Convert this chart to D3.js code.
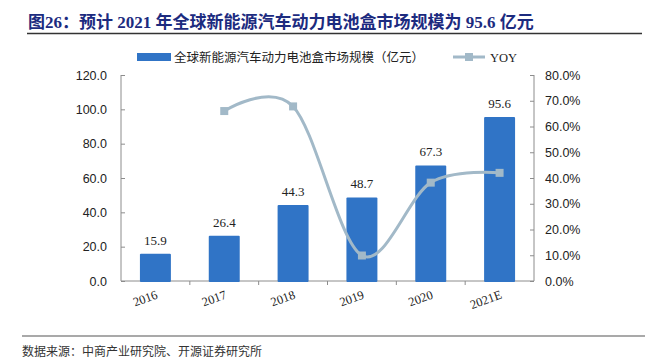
<!DOCTYPE html>
<html>
<head>
<meta charset="utf-8">
<script src="https://cdn.jsdelivr.net/npm/d3@7/dist/d3.min.js"></script>
<style>
    body { margin: 0; background: #fff; }
    svg { display: block; font-family: "Times New Roman", "Liberation Serif", "Noto Sans CJK SC", serif; }
    .axis path, .axis line { stroke: #8c8c8c; }
    .axis text { fill: #222; font-size: 12.5px; }
</style>
</head>
<body>
<div id="chart"></div>
<script>
    "use strict";

    var years = ['2016', '2017', '2018', '2019', '2020', '2021E'];
    var marketSize = [15.9, 26.4, 44.3, 48.7, 67.3, 95.6];
    // YOY in %, no value for the first year
    var yoy = [null, 66.0, 67.8, 9.9, 38.2, 42.0];
    var leftTicks = [0, 20, 40, 60, 80, 100, 120];
    var rightTicks = [0, 10, 20, 30, 40, 50, 60, 70, 80];

    var width = 647;
    var height = 364;
    var marginLeft = 121;
    var marginRight = 113;
    var marginTop = 75;
    var plotBottom = 281;

    var barColor = '#3074c6';
    var lineColor = '#a2b9c8';

    var svg = d3.select('#chart').append('svg')
        .attr('width', width)
        .attr('height', height);

    // title + rule
    svg.append('text')
        .attr('x', 28)
        .attr('y', 28)
        .attr('fill', '#1c2b7f')
        .attr('font-size', '17px')
        .attr('font-weight', 'bold')
        .text('图26：预计 2021 年全球新能源汽车动力电池盒市场规模为 95.6 亿元');

    svg.append('line')
        .attr('x1', 27).attr('x2', 642)
        .attr('y1', 33.5).attr('y2', 33.5)
        .attr('stroke', '#333').attr('stroke-width', 1.5);

    var x = d3.scaleBand()
        .domain(years)
        .range([marginLeft, width - marginRight])
        .paddingInner(0.55)
        .paddingOuter(0.275);

    var xTicks = d3.scaleBand()
        .domain(years)
        .range([marginLeft, width - marginRight]);

    var y = d3.scaleLinear()
        .domain([0, 120])
        .range([plotBottom, marginTop]);

    var y2 = d3.scaleLinear()
        .domain([0, 80])
        .range([plotBottom, marginTop]);

    // left axis, ticks pointing inward
    var leftAxis = svg.append('g')
        .attr('class', 'axis')
        .attr('transform', 'translate(' + marginLeft + ',0)')
        .call(d3.axisLeft(y).tickValues(leftTicks).tickSize(-4).tickPadding(14)
            .tickFormat(d3.format('.1f')));

    var rightAxis = svg.append('g')
        .attr('class', 'axis')
        .attr('transform', 'translate(' + (width - marginRight) + ',0)')
        .call(d3.axisRight(y2).tickValues(rightTicks).tickSize(-4).tickPadding(11)
            .tickFormat(function (d) { return d.toFixed(1) + '%'; }));

    [leftAxis, rightAxis].forEach(function (a) {
        a.select('.domain').attr('d', function () {
            return 'M0,' + marginTop + 'V' + plotBottom;
        });
    });

    // bottom axis line + category separators
    var bottom = svg.append('g').attr('class', 'axis');
    bottom.append('line')
        .attr('x1', marginLeft).attr('x2', width - marginRight)
        .attr('y1', plotBottom).attr('y2', plotBottom);
    bottom.selectAll('.sep')
        .data(years.slice(1))
        .enter()
        .append('line')
        .attr('class', 'sep')
        .attr('x1', function (d) { return xTicks(d); })
        .attr('x2', function (d) { return xTicks(d); })
        .attr('y1', plotBottom)
        .attr('y2', plotBottom + 4);

    bottom.selectAll('.xlabel')
        .data(years)
        .enter()
        .append('text')
        .attr('class', 'xlabel')
        .attr('text-anchor', 'end')
        .attr('font-size', '12.5px')
        .attr('fill', '#222')
        .attr('transform', function (d) {
            var cx = x(d) + x.bandwidth() / 2 + 3;
            return 'translate(' + cx + ',' + 298 + ') rotate(-20)';
        })
        .text(function (d) { return d; });

    // bars
    svg.selectAll('.bar')
        .data(marketSize)
        .enter()
        .append('rect')
        .attr('class', 'bar')
        .attr('x', function (d, i) { return x(years[i]); })
        .attr('width', x.bandwidth())
        .attr('y', function (d) { return y(d); })
        .attr('height', function (d) { return plotBottom - y(d) + 1; })
        .attr('rx', 1)
        .attr('fill', barColor);

    svg.selectAll('.barLabel')
        .data(marketSize)
        .enter()
        .append('text')
        .attr('class', 'barLabel')
        .attr('text-anchor', 'middle')
        .attr('font-size', '13px')
        .attr('fill', '#222')
        .attr('x', function (d, i) { return x(years[i]) + x.bandwidth() / 2; })
        .attr('y', function (d) { return y(d) - 9; })
        .text(function (d) { return d.toFixed(1); });

    // yoy line
    var yoyPts = yoy.map(function (v, i) { return { year: years[i], v: v }; })
        .filter(function (d) { return d.v !== null; });

    var line = d3.line()
        .x(function (d) { return x(d.year) + x.bandwidth() / 2; })
        .y(function (d) { return y2(d.v); })
        .curve(d3.curveCardinal.tension(0));

    svg.append('path')
        .datum(yoyPts)
        .attr('d', line)
        .attr('fill', 'none')
        .attr('stroke', lineColor)
        .attr('stroke-width', 3);

    svg.selectAll('.yoyMark')
        .data(yoyPts)
        .enter()
        .append('rect')
        .attr('class', 'yoyMark')
        .attr('x', function (d) { return x(d.year) + x.bandwidth() / 2 - 4; })
        .attr('y', function (d) { return y2(d.v) - 4; })
        .attr('width', 8)
        .attr('height', 8)
        .attr('fill', lineColor);

    // legend
    var legend = svg.append('g').attr('font-size', '12.5px').attr('fill', '#222');
    legend.append('rect')
        .attr('x', 137).attr('y', 53)
        .attr('width', 34).attr('height', 8)
        .attr('fill', barColor);
    legend.append('text')
        .attr('x', 174).attr('y', 61.5)
        .attr('fill', '#222')
        .text('全球新能源汽车动力电池盒市场规模（亿元）');
    legend.append('line')
        .attr('x1', 453).attr('x2', 485)
        .attr('y1', 57).attr('y2', 57)
        .attr('stroke', lineColor).attr('stroke-width', 3);
    legend.append('rect')
        .attr('x', 465).attr('y', 53)
        .attr('width', 8).attr('height', 8)
        .attr('fill', lineColor);
    legend.append('text')
        .attr('x', 490).attr('y', 61.5)
        .attr('fill', '#222')
        .text('YOY');

    // source
    svg.append('line')
        .attr('x1', 22).attr('x2', 645)
        .attr('y1', 336).attr('y2', 336)
        .attr('stroke', '#8c8c8c').attr('stroke-width', 1.5);
    svg.append('text')
        .attr('x', 22)
        .attr('y', 356)
        .attr('font-size', '12px')
        .attr('fill', '#333')
        .text('数据来源：中商产业研究院、开源证券研究所');
</script>
</body>
</html>
